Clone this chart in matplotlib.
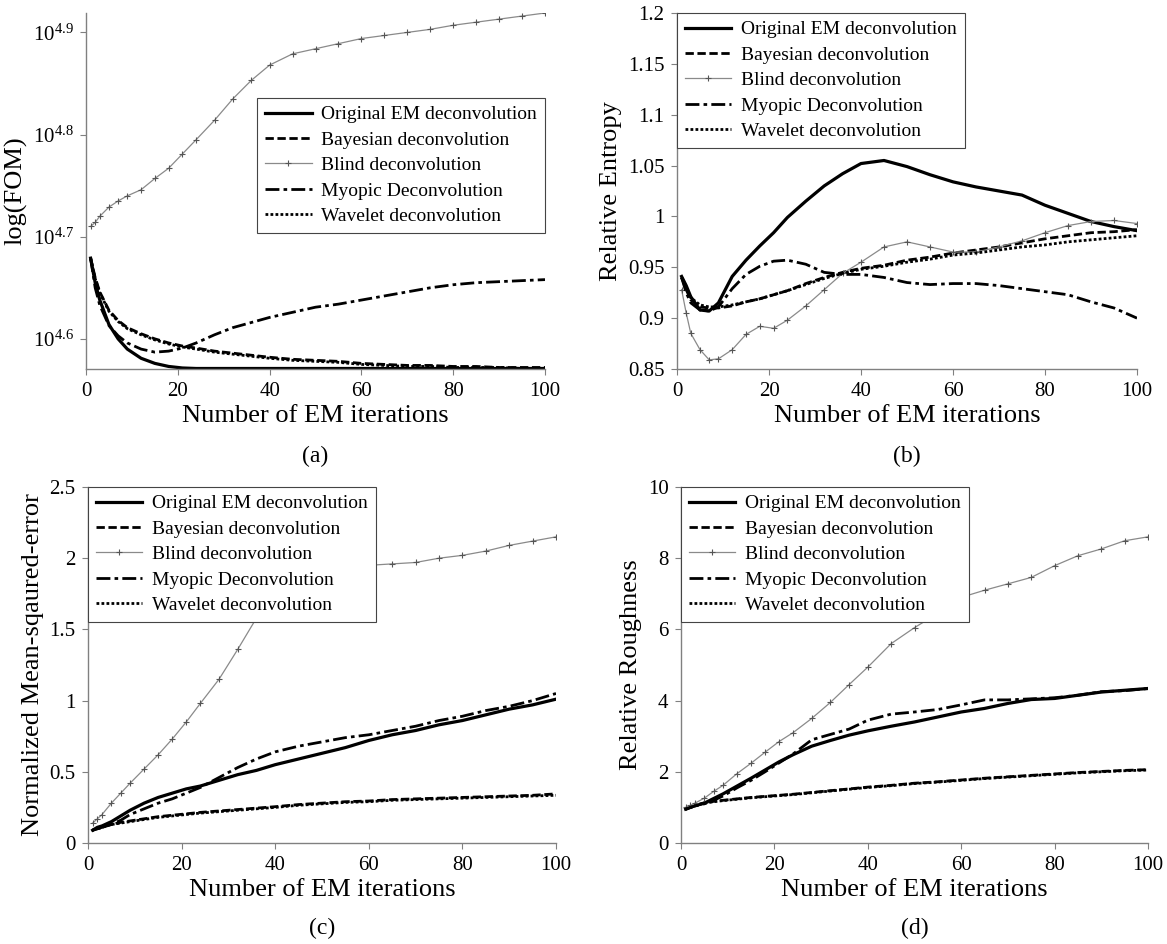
import numpy as np
import matplotlib.pyplot as plt
from matplotlib.ticker import NullLocator

plt.rcParams['font.family'] = ['Liberation Serif', 'DejaVu Serif']
plt.rcParams['mathtext.fontset'] = 'custom'
plt.rcParams['mathtext.rm'] = 'Liberation Serif'
plt.rcParams['mathtext.it'] = 'Liberation Serif:italic'

names = ["Original EM deconvolution", "Bayesian deconvolution", "Blind deconvolution",
         "Myopic Deconvolution", "Wavelet deconvolution"]
iters = [1, 2, 3, 5, 7, 9, 12, 15, 18, 21, 24, 28, 32, 36, 40, 45, 50, 55, 60, 65, 70, 75, 80, 85, 90, 95, 100]

# (a) exponent of FOM (plotted on log axis)
a_orig = [4.679, 4.655, 4.638, 4.614, 4.600, 4.590, 4.581, 4.576, 4.573, 4.5715, 4.571, 4.571, 4.571, 4.571,
          4.571, 4.571, 4.571, 4.571, 4.571, 4.571, 4.571, 4.571, 4.571, 4.571, 4.571, 4.571, 4.571]
a_bayes = [4.679, 4.660, 4.646, 4.628, 4.618, 4.611, 4.605, 4.600, 4.596, 4.593, 4.591, 4.588, 4.586, 4.584,
           4.582, 4.580, 4.579, 4.578, 4.576, 4.575, 4.574, 4.574, 4.573, 4.573, 4.572, 4.572, 4.572]
a_blind = [4.710, 4.714, 4.720, 4.729, 4.735, 4.740, 4.746, 4.757, 4.767, 4.781, 4.795, 4.814, 4.835, 4.853,
           4.868, 4.879, 4.884, 4.889, 4.894, 4.897, 4.900, 4.903, 4.907, 4.910, 4.913, 4.916, 4.919]
a_myopic = [4.679, 4.650, 4.633, 4.613, 4.603, 4.596, 4.590, 4.587, 4.588, 4.591, 4.596, 4.604, 4.611, 4.616,
            4.621, 4.626, 4.631, 4.634, 4.638, 4.642, 4.646, 4.650, 4.653, 4.655, 4.656, 4.657, 4.658]
a_wavelet = [4.679, 4.659, 4.645, 4.627, 4.617, 4.610, 4.604, 4.599, 4.595, 4.592, 4.590, 4.587, 4.585, 4.583,
             4.581, 4.579, 4.578, 4.577, 4.575, 4.574, 4.573, 4.573, 4.572, 4.572, 4.572, 4.571, 4.571]

# (b) relative entropy
b_orig = [0.941, 0.932, 0.921, 0.908, 0.907, 0.915, 0.941, 0.957, 0.971, 0.984, 0.999, 1.015, 1.030, 1.042,
          1.052, 1.055, 1.049, 1.041, 1.034, 1.029, 1.025, 1.021, 1.011, 1.003, 0.995, 0.990, 0.986]
b_bayes = [0.940, 0.928, 0.918, 0.911, 0.910, 0.910, 0.912, 0.916, 0.919, 0.923, 0.927, 0.934, 0.940, 0.945,
           0.949, 0.952, 0.957, 0.960, 0.964, 0.967, 0.970, 0.974, 0.978, 0.981, 0.984, 0.985, 0.987]
b_blind = [0.928, 0.905, 0.885, 0.869, 0.859, 0.860, 0.869, 0.884, 0.892, 0.890, 0.898, 0.912, 0.928, 0.944,
           0.955, 0.970, 0.975, 0.970, 0.965, 0.965, 0.970, 0.976, 0.984, 0.991, 0.995, 0.996, 0.993]
b_myopic = [0.940, 0.925, 0.915, 0.908, 0.907, 0.911, 0.929, 0.943, 0.951, 0.956, 0.957, 0.953, 0.945, 0.943,
            0.943, 0.940, 0.935, 0.933, 0.934, 0.934, 0.932, 0.929, 0.926, 0.923, 0.916, 0.910, 0.900]
b_wavelet = [0.940, 0.930, 0.920, 0.913, 0.911, 0.911, 0.913, 0.916, 0.919, 0.923, 0.927, 0.933, 0.939, 0.944,
             0.948, 0.951, 0.955, 0.958, 0.962, 0.964, 0.967, 0.970, 0.972, 0.975, 0.977, 0.979, 0.981]

# (c) normalized mean squared error
c_orig = [0.09, 0.11, 0.12, 0.15, 0.19, 0.23, 0.28, 0.32, 0.35, 0.38, 0.40, 0.44, 0.48, 0.51,
          0.55, 0.59, 0.63, 0.67, 0.72, 0.76, 0.79, 0.83, 0.86, 0.90, 0.94, 0.97, 1.01]
c_bayes = [0.09, 0.10, 0.11, 0.13, 0.145, 0.155, 0.17, 0.185, 0.195, 0.205, 0.215, 0.225, 0.235, 0.245,
           0.255, 0.27, 0.28, 0.29, 0.295, 0.305, 0.31, 0.315, 0.32, 0.325, 0.33, 0.335, 0.345]
c_blind = [0.14, 0.17, 0.20, 0.28, 0.35, 0.42, 0.52, 0.62, 0.73, 0.85, 0.98, 1.15, 1.36, 1.58,
           1.70, 1.80, 1.87, 1.92, 1.95, 1.96, 1.97, 2.00, 2.02, 2.05, 2.09, 2.12, 2.15]
c_myopic = [0.09, 0.10, 0.11, 0.13, 0.16, 0.20, 0.24, 0.28, 0.31, 0.35, 0.39, 0.46, 0.53, 0.59,
            0.64, 0.68, 0.71, 0.74, 0.76, 0.79, 0.82, 0.86, 0.89, 0.93, 0.96, 1.00, 1.05]
c_wavelet = [0.09, 0.10, 0.11, 0.13, 0.14, 0.15, 0.165, 0.18, 0.19, 0.20, 0.21, 0.22, 0.23, 0.24,
             0.25, 0.265, 0.275, 0.285, 0.29, 0.30, 0.305, 0.31, 0.315, 0.32, 0.325, 0.33, 0.335]

# (d) relative roughness
d_orig = [0.95, 1.0, 1.05, 1.12, 1.25, 1.38, 1.6, 1.82, 2.05, 2.28, 2.48, 2.72, 2.88, 3.03,
          3.15, 3.28, 3.40, 3.54, 3.68, 3.78, 3.92, 4.03, 4.06, 4.15, 4.24, 4.29, 4.34]
d_bayes = [0.95, 1.0, 1.05, 1.13, 1.17, 1.2, 1.24, 1.28, 1.31, 1.34, 1.37, 1.42, 1.47, 1.52,
           1.57, 1.62, 1.68, 1.72, 1.77, 1.82, 1.86, 1.90, 1.94, 1.98, 2.01, 2.04, 2.06]
d_blind = [1.0, 1.06, 1.12, 1.26, 1.45, 1.62, 1.95, 2.24, 2.55, 2.85, 3.1, 3.5, 3.95, 4.45,
           4.94, 5.6, 6.05, 6.45, 6.9, 7.1, 7.28, 7.46, 7.79, 8.07, 8.26, 8.49, 8.60]
d_myopic = [0.95, 1.0, 1.04, 1.10, 1.2, 1.32, 1.55, 1.76, 2.0, 2.25, 2.5, 2.9, 3.05, 3.2,
            3.45, 3.62, 3.68, 3.75, 3.88, 4.02, 4.02, 4.05, 4.08, 4.15, 4.25, 4.28, 4.34]
d_wavelet = [0.95, 1.0, 1.04, 1.12, 1.16, 1.19, 1.23, 1.27, 1.30, 1.33, 1.36, 1.41, 1.46, 1.51,
             1.56, 1.61, 1.67, 1.71, 1.76, 1.81, 1.85, 1.89, 1.93, 1.97, 2.00, 2.03, 2.05]

gray = '#808080'
W, H = 1167, 944
fig = plt.figure(figsize=(W / 100, H / 100), dpi=100)


def px_axes(l, r, t, b):
    return fig.add_axes([l / W, 1 - b / H, (r - l) / W, (b - t) / H])


def draw(ax, ys, leg_anchor, leg_loc):
    orig, bayes, blind, myopic, wavelet = ys
    ax.plot(iters, orig, color='k', lw=2.3, label=names[0])
    ax.plot(iters, bayes, color='k', lw=2.0, ls=(0, (3, 1.3)), label=names[1])
    ax.plot(iters, blind, color='#8a8a8a', lw=0.9, marker='+', ms=4.5, mew=0.8, mec='#555555', label=names[2])
    ax.plot(iters, myopic, color='k', lw=2.0, ls=(0, (5, 1.5, 1.3, 1.5)), label=names[3])
    ax.plot(iters, wavelet, color='k', lw=2.0, ls=(0, (1, 0.8)), label=names[4])
    ax.set_xlim(0, 100)
    ax.set_xticks([0, 20, 40, 60, 80, 100])
    for s in ['top', 'right']:
        ax.spines[s].set_visible(False)
    for s in ['left', 'bottom']:
        ax.spines[s].set_color(gray)
        ax.spines[s].set_linewidth(1.0)
    ax.tick_params(direction='out', length=4, color=gray, labelsize=15, pad=5)
    ax.set_xlabel("Number of EM iterations", fontsize=19, labelpad=3)
    leg = ax.legend(loc=leg_loc, bbox_to_anchor=leg_anchor, fontsize=14, frameon=True, fancybox=False,
                    edgecolor='#444444', framealpha=1, borderaxespad=0, handlelength=2.4,
                    handletextpad=0.5, labelspacing=0.4, borderpad=0.4)
    leg.get_frame().set_linewidth(0.8)


# (a)
ax = px_axes(86, 545, 13, 369)
draw(ax, [10 ** np.array(a) for a in (a_orig, a_bayes, a_blind, a_myopic, a_wavelet)], (1.0, 0.761), 'upper right')
ax.set_yscale('log')
ax.set_ylim(10 ** 4.5705, 10 ** 4.919)
ax.set_yticks([10 ** 4.6, 10 ** 4.7, 10 ** 4.8, 10 ** 4.9])
ax.set_yticklabels(['$10^{4.6}$', '$10^{4.7}$', '$10^{4.8}$', '$10^{4.9}$'])
ax.yaxis.set_minor_locator(NullLocator())
ax.set_ylabel("log(FOM)", fontsize=19)
fig.text((86 + 545) / 2 / W, 1 - 456 / H, "(a)", ha='center', va='center', fontsize=17)

# (b)
ax = px_axes(677, 1137, 13, 369)
draw(ax, [b_orig, b_bayes, b_blind, b_myopic, b_wavelet], (0.0, 1.0), 'upper left')
ax.set_ylim(0.85, 1.2)
ax.set_yticks([0.85, 0.9, 0.95, 1.0, 1.05, 1.1, 1.15, 1.2])
ax.set_yticklabels(['0.85', '0.9', '0.95', '1', '1.05', '1.1', '1.15', '1.2'])
ax.set_ylabel("Relative Entropy", fontsize=19)
fig.text((677 + 1137) / 2 / W, 1 - 456 / H, "(b)", ha='center', va='center', fontsize=17)

# (c)
ax = px_axes(88, 556, 487, 843)
draw(ax, [c_orig, c_bayes, c_blind, c_myopic, c_wavelet], (0.0, 1.0), 'upper left')
ax.set_ylim(0, 2.5)
ax.set_yticks([0, 0.5, 1, 1.5, 2, 2.5])
ax.set_yticklabels(['0', '0.5', '1', '1.5', '2', '2.5'])
ax.set_ylabel("Normalized Mean-sqaured-error", fontsize=19)
fig.text((88 + 556) / 2 / W, 1 - 928 / H, "(c)", ha='center', va='center', fontsize=17)

# (d)
ax = px_axes(681, 1148, 487, 843)
draw(ax, [d_orig, d_bayes, d_blind, d_myopic, d_wavelet], (0.0, 1.0), 'upper left')
ax.set_ylim(0, 10)
ax.set_yticks([0, 2, 4, 6, 8, 10])
ax.set_ylabel("Relative Roughness", fontsize=19)
fig.text((681 + 1148) / 2 / W, 1 - 928 / H, "(d)", ha='center', va='center', fontsize=17)

fig.savefig("out.png", dpi=100)
